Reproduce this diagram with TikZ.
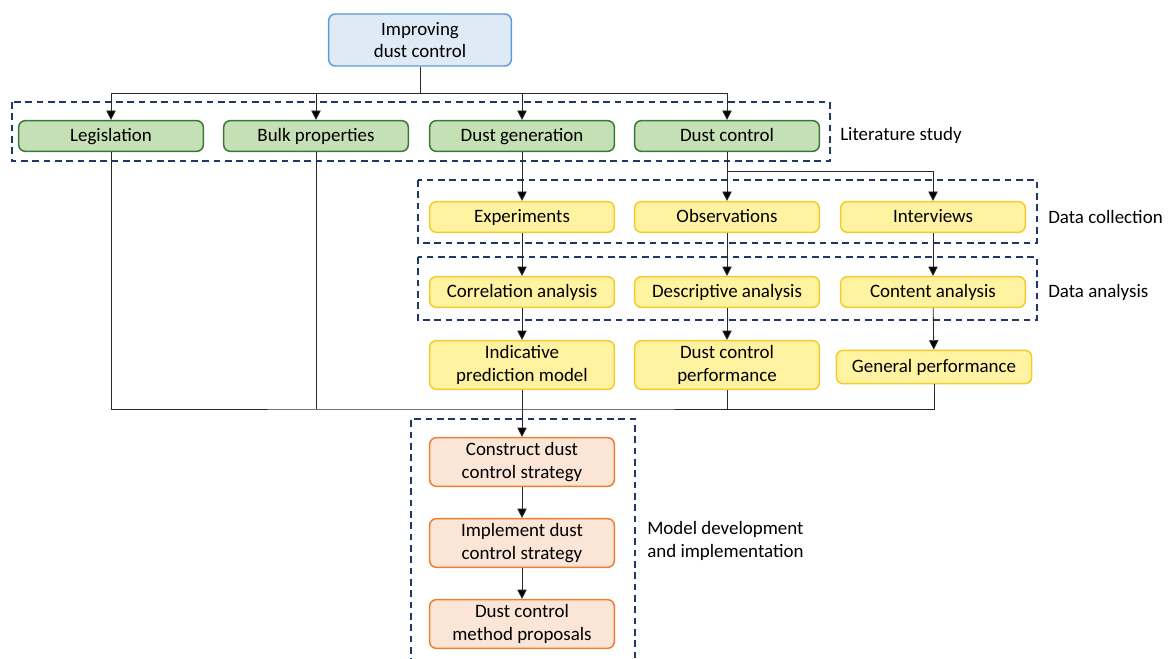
\documentclass[tikz,border=0pt]{standalone}
\usepackage{fontspec}
\setmainfont{Carlito}
\definecolor{topblue}{RGB}{222, 235, 247}
\definecolor{topline}{RGB}{91, 155, 213}
\definecolor{litgreen}{RGB}{197, 224, 180}
\definecolor{litline}{RGB}{56, 118, 58}
\definecolor{datayellow}{RGB}{255, 242, 160}
\definecolor{dataline}{RGB}{242, 204, 40}
\definecolor{modorange}{RGB}{251, 229, 214}
\definecolor{modline}{RGB}{237, 125, 49}
\definecolor{groupnavy}{RGB}{32, 56, 100}
\definecolor{wire}{RGB}{40, 40, 40}
\usetikzlibrary{arrows.meta, calc}

\tikzset{
  box/.style={rounded corners=5pt, line width=1.1pt, minimum width=138.5pt, align=center,
    inner sep=2pt, font=\fontsize{14.2}{16.8}\selectfont},
  oneline/.style={text height=2.2ex, text depth=0.45ex},
  greenbox/.style={box, oneline, draw=litline, fill=litgreen, minimum height=23pt},
  yellowbox/.style={box, oneline, draw=dataline, fill=datayellow, minimum height=23pt},
  pairbox/.style={box, draw=dataline, fill=datayellow, minimum height=36.5pt},
  orangebox/.style={box, draw=modline, fill=modorange, minimum height=36.5pt},
  groupbox/.style={draw=groupnavy, line width=1pt, dash pattern=on 5pt off 3.5pt},
  grouplabel/.style={anchor=west, align=left, inner sep=0pt, font=\fontsize{14.2}{17.2}\selectfont},
  wired/.style={draw=wire, line width=0.6pt},
  arrow/.style={wired, -{Triangle[length=7pt, width=7pt, fill=black]}}
}

\begin{document}
\begin{tikzpicture}[x=0.75pt, y=-0.75pt]
  \useasboundingbox (0,0) rectangle (1173,659);

  % Goal
  \node[box, draw=topline, fill=topblue, minimum width=137pt, minimum height=39pt] (goal) at (420, 40)
    {Improving\\dust control};

  % Literature study
  \node[greenbox] (leg)  at (111, 136) {Legislation};
  \node[greenbox] (bulk) at (316, 136) {Bulk properties};
  \node[greenbox] (gen)  at (522, 136) {Dust generation};
  \node[greenbox] (ctrl) at (727, 136) {Dust control};
  \draw[groupbox] (12, 102) rectangle (830, 161);
  \node[grouplabel] (litlab) at (840, 135) {Literature study};

  % Data collection
  \node[yellowbox] (exp) at (522, 217) {Experiments};
  \node[yellowbox] (obs) at (727, 217) {Observations};
  \node[yellowbox] (int) at (933, 217) {Interviews};
  \draw[groupbox] (418, 180) rectangle (1037, 243);
  \node[grouplabel] (collab) at (1048, 217) {Data collection};

  % Data analysis
  \node[yellowbox] (cor) at (522, 292) {Correlation analysis};
  \node[yellowbox] (des) at (727, 292) {Descriptive analysis};
  \node[yellowbox] (con) at (933, 292) {Content analysis};
  \draw[groupbox] (418, 257) rectangle (1037, 320);
  \node[grouplabel] (analab) at (1048, 292) {Data analysis};

  % Results
  \node[pairbox] (pred) at (522, 365) {Indicative\\prediction model};
  \node[pairbox] (perf) at (727, 365) {Dust control\\performance};
  \node[yellowbox, minimum width=146.5pt, minimum height=25pt] (gperf) at (934, 367) {General performance};

  % Model development
  \node[orangebox] (cons) at (522, 462) {Construct dust\\control strategy};
  \node[orangebox] (impl) at (522, 543) {Implement dust\\control strategy};
  \node[orangebox] (prop) at (522, 624) {Dust control\\method proposals};
  \draw[groupbox] (411, 665) -- (411, 419) -- (635, 419) -- (635, 665);
  \node[grouplabel] (modlab) at (647, 541) {Model development\\and implementation};

  % Connectors
  \coordinate (topbus) at (420, 93);
  \coordinate (ctrlbus) at (727, 171);
  \coordinate (lowbus) at (420, 409);
  \draw[wired] (goal.south) -- (topbus);
  \draw[arrow] (topbus) -| (leg.north);
  \draw[arrow] (topbus) -| (bulk.north);
  \draw[arrow] (topbus) -| (gen.north);
  \draw[arrow] (topbus) -| (ctrl.north);

  \draw[arrow] (gen) -- (exp);
  \draw[arrow] (ctrl) -- (obs);
  \draw[arrow] (ctrlbus) -| (int.north);

  \draw[arrow] (exp) -- (cor);
  \draw[arrow] (obs) -- (des);
  \draw[arrow] (int) -- (con);
  \draw[arrow] (cor) -- (pred);
  \draw[arrow] (des) -- (perf);
  \draw[arrow] (con) -- (gperf);

  \draw[wired] (leg.south) |- (lowbus) -| (gperf.south);
  \draw[wired] (bulk.south) -- (bulk.south |- lowbus);
  \draw[wired] (perf.south) -- (perf.south |- lowbus);
  \draw[arrow] (pred) -- (cons);
  \draw[arrow] (cons) -- (impl);
  \draw[arrow] (impl) -- (prop);
\end{tikzpicture}
\end{document}
